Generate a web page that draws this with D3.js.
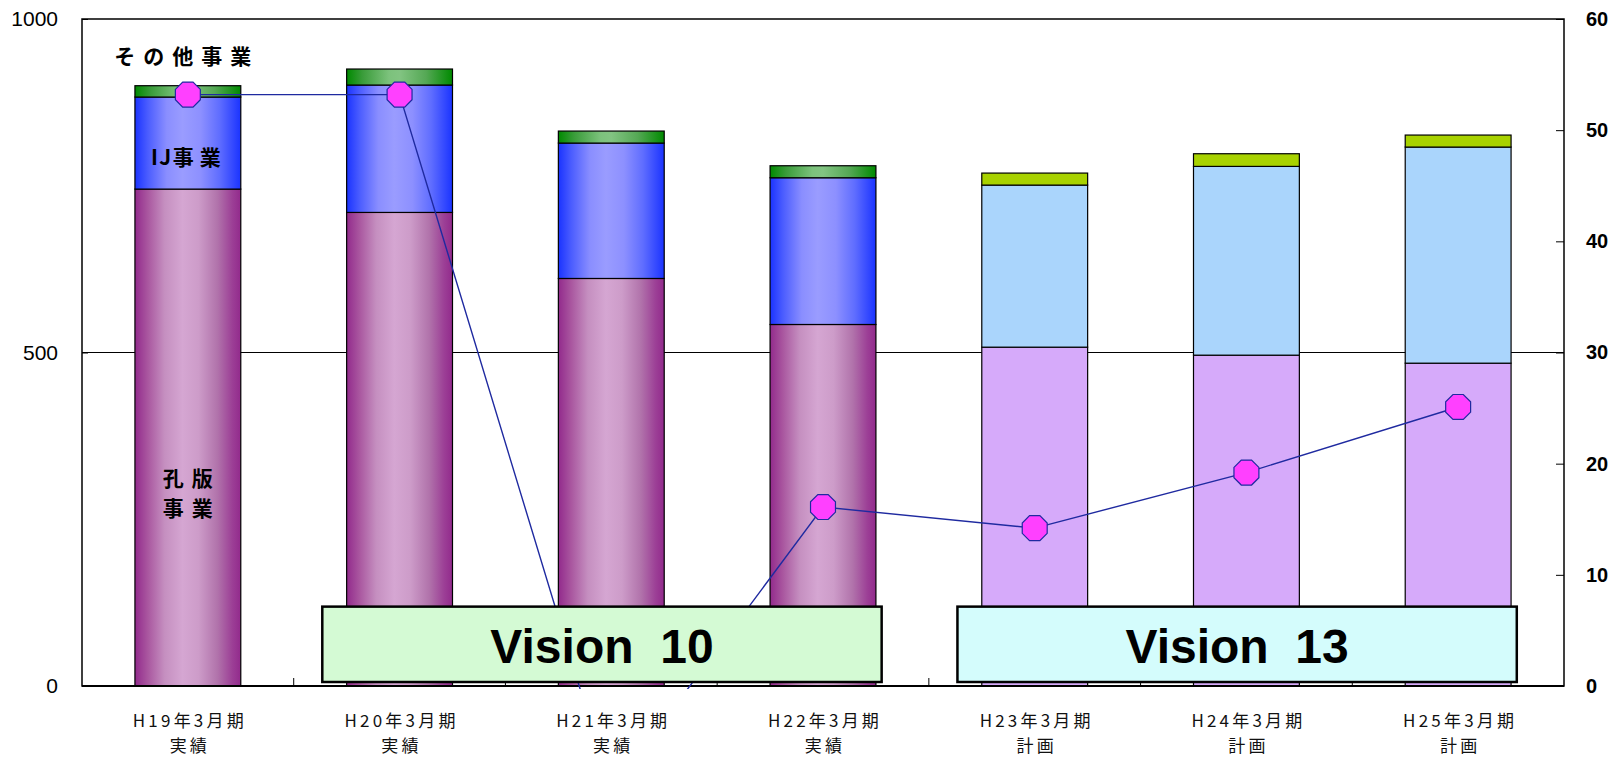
<!DOCTYPE html>
<meta charset="utf-8" />
<head>
  <style>
    body { margin: 0; background: #fff; }
    svg { display: block; }
    .tick text { fill: #000; }
  </style>
  <script src="https://d3js.org/d3.v7.min.js"></script>
</head>
<body>
  <svg width="1616" height="758"></svg>
  <script>
    // chart values
    const categories = ["H19年3月期", "H20年3月期", "H21年3月期", "H22年3月期", "H23年3月期", "H24年3月期", "H25年3月期"];
    const subLabels = ["実績", "実績", "実績", "実績", "計画", "計画", "計画"];
    const kohan = [745, 710, 611, 542, 508, 496, 484];   // 孔版事業
    const ij = [138, 191, 203, 220, 243, 283, 324];      // IJ事業
    const other = [17, 24, 18, 18, 18, 19, 18];          // その他事業
    const profit = [53.2, 53.2, -9.5, 16.1, 14.2, 19.2, 25.1];
    const isPlan = [false, false, false, false, true, true, true];
    const leftTicks = [0, 500, 1000];
    const rightTicks = [0, 10, 20, 30, 40, 50, 60];
    const visionLabels = ["Vision  10", "Vision  13"];
    const visionFrom = ["H20年3月期", "H23年3月期"];
    const visionTo = ["H22年3月期", "H25年3月期"];

    const svg = d3.select("svg");
    const plotLeft = 82, plotRight = 1564, plotTop = 19, plotBottom = 686;

    const x = d3.scaleBand().domain(categories).range([plotLeft, plotRight])
      .paddingInner(0.5).paddingOuter(0.25);
    const step = x.step();
    const yL = d3.scaleLinear().domain([0, 1000]).range([plotBottom, plotTop]);
    const yR = d3.scaleLinear().domain([0, 60]).range([plotBottom, plotTop]);
    const cx = c => x(c) + x.bandwidth() / 2;

    const defs = svg.append("defs");
    function grad(id, stops) {
      const g = defs.append("linearGradient").attr("id", id)
        .attr("x1", "0%").attr("x2", "100%").attr("y1", "0%").attr("y2", "0%");
      stops.forEach(s => g.append("stop").attr("offset", s[0]).attr("stop-color", s[1]));
    }
    grad("gPink", [[0, "#922a8c"], [0.12, "#a9569f"], [0.28, "#c58fc0"], [0.45, "#d5a6d2"], [0.6, "#cd9cc9"], [0.78, "#b173ab"], [0.92, "#9c3f96"], [1, "#922a8c"]]);
    grad("gBlue", [[0, "#1a33ff"], [0.12, "#4a5cff"], [0.3, "#8a8eff"], [0.45, "#9a9cff"], [0.62, "#8d90ff"], [0.8, "#5f6dff"], [1, "#1a33ff"]]);
    grad("gGreen", [[0, "#008a00"], [0.15, "#3a9c3a"], [0.4, "#7cc27c"], [0.5, "#82c482"], [0.75, "#55a855"], [1, "#008a00"]]);

    defs.append("clipPath").attr("id", "plotClip").append("rect")
      .attr("x", plotLeft).attr("y", plotTop).attr("width", plotRight - plotLeft).attr("height", plotBottom - plotTop + 3);

    // gridline at 500
    svg.append("line").attr("x1", plotLeft).attr("x2", plotRight)
      .attr("y1", yL(500)).attr("y2", yL(500)).attr("stroke", "#000").attr("stroke-width", 1.2);

    // stacked bars
    const stacks = categories.map((c, i) => {
      const a = kohan[i], b = a + ij[i], t = b + other[i];
      return [
        { c, y0: 0, y1: a, fill: isPlan[i] ? "#d6aafa" : "url(#gPink)" },
        { c, y0: a, y1: b, fill: isPlan[i] ? "#aad5fc" : "url(#gBlue)" },
        { c, y0: b, y1: t, fill: isPlan[i] ? "#a8d200" : "url(#gGreen)" }
      ];
    }).flat();

    svg.append("g").selectAll("rect").data(stacks).enter().append("rect")
      .attr("x", d => x(d.c))
      .attr("y", d => yL(d.y1))
      .attr("width", x.bandwidth())
      .attr("height", d => yL(d.y0) - yL(d.y1))
      .attr("fill", d => d.fill)
      .attr("stroke", "#000").attr("stroke-width", 1.2);

    // plot frame
    svg.append("rect").attr("x", plotLeft).attr("y", plotTop)
      .attr("width", plotRight - plotLeft).attr("height", plotBottom - plotTop)
      .attr("fill", "none").attr("stroke", "#000").attr("stroke-width", 1.5);

    // left axis
    svg.append("g").attr("transform", "translate(" + plotLeft + ",0)")
      .call(d3.axisLeft(yL).tickValues(leftTicks).tickFormat(d3.format("d"))
        .tickSizeInner(-6).tickSizeOuter(0).tickPadding(24))
      .call(g => g.select(".domain").remove())
      .selectAll("text").attr("font-family", "Liberation Sans, Arial").attr("font-size", 21);

    // right axis
    svg.append("g").attr("transform", "translate(" + plotRight + ",0)")
      .call(d3.axisRight(yR).tickValues(rightTicks).tickSizeInner(-8).tickSizeOuter(0).tickPadding(22))
      .call(g => g.select(".domain").remove())
      .selectAll("text").attr("font-family", "Liberation Sans, Arial").attr("font-size", 20).attr("font-weight", "bold");

    // bottom category ticks
    const bounds = d3.range(categories.length - 1).map(i => cx(categories[i]) + step / 2);
    svg.append("g").selectAll("line").data(bounds).enter().append("line")
      .attr("x1", d => d).attr("x2", d => d)
      .attr("y1", plotBottom).attr("y2", plotBottom - 8)
      .attr("stroke", "#000").attr("stroke-width", 1);
    svg.append("line").attr("x1", plotLeft).attr("x2", plotRight).attr("y1", plotBottom).attr("y2", plotBottom)
      .attr("stroke", "#000").attr("stroke-width", 2);

    // category labels, two lines each
    const xl = svg.append("g").attr("font-family", "Noto Sans CJK JP").attr("font-size", 17)
      .attr("fill", "#111").attr("text-anchor", "middle");
    const xt = xl.selectAll("text").data(categories).enter().append("text")
      .attr("x", d => cx(d) + 2).attr("y", 727).attr("letter-spacing", 3.2);
    xt.append("tspan").attr("x", d => cx(d) + 2).text(d => d);
    xt.append("tspan").attr("x", d => cx(d) + 2).attr("dy", 25).text((d, i) => subLabels[i]);

    // profit line
    const lineG = svg.append("g").attr("clip-path", "url(#plotClip)");
    lineG.append("path").datum(profit)
      .attr("fill", "none").attr("stroke", "#1f2aa0").attr("stroke-width", 1.4)
      .attr("d", d3.line().x((d, i) => cx(categories[i])).y(d => yR(d)));
    const r = 13.5;
    const octagon = d3.line()(d3.range(8).map(k => {
      const a = Math.PI / 8 + k * Math.PI / 4;
      return [r * Math.cos(a), r * Math.sin(a)];
    })) + "Z";
    lineG.selectAll("path.mk").data(profit).enter().append("path").attr("class", "mk")
      .attr("transform", (d, i) => "translate(" + cx(categories[i]) + "," + yR(d) + ")")
      .attr("d", octagon)
      .attr("fill", "#ff40ff").attr("stroke", "#1f2aa0").attr("stroke-width", 1.2);

    // segment labels on first bar
    const lab = svg.append("g").attr("font-family", "Noto Sans CJK JP").attr("font-weight", "bold")
      .attr("font-size", 21).attr("text-anchor", "middle").attr("fill", "#000");
    const c0 = categories[0];
    lab.append("text").attr("x", cx(c0) - 1).attr("y", yL(943) + 7).attr("letter-spacing", 8).text("その他事業");
    const ijText = lab.append("text").attr("x", cx(c0) + 1).attr("y", yL(791) + 7);
    ijText.append("tspan").attr("letter-spacing", 1.5).text("IJ");
    ijText.append("tspan").attr("letter-spacing", 6).text("事業");
    lab.append("text").attr("x", cx(c0) + 4).attr("y", yL(310) + 7).attr("letter-spacing", 8).text("孔版");
    lab.append("text").attr("x", cx(c0) + 4).attr("y", yL(265) + 7).attr("letter-spacing", 8).text("事業");

    // vision boxes
    const visionFills = ["#d4fad4", "#d4fcfc"];
    visionLabels.forEach((v, i) => {
      const x0 = cx(visionFrom[i]) - step / 2 + 0.135 * step;
      const x1 = cx(visionTo[i]) - step / 2 + 0.777 * step;
      const g = svg.append("g");
      g.append("rect").attr("x", x0).attr("y", yL(119))
        .attr("width", x1 - x0).attr("height", yL(6) - yL(119))
        .attr("fill", visionFills[i]).attr("stroke", "#000").attr("stroke-width", 2.5);
      g.append("text").attr("x", (x0 + x1) / 2).attr("y", yL(6) - 19)
        .attr("text-anchor", "middle").attr("font-family", "Liberation Sans, Arial")
        .attr("font-weight", "bold").attr("font-size", 48)
        .style("white-space", "pre").attr("xml:space", "preserve").text(v);
    });
  </script>
</body>
